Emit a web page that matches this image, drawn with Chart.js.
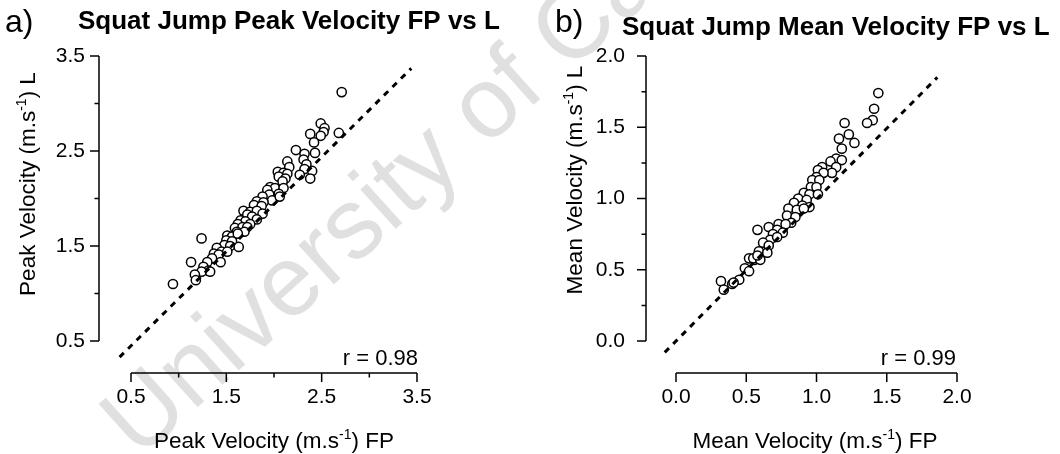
<!DOCTYPE html>
<html>
<head>
<meta charset="utf-8">
<script src="https://cdn.jsdelivr.net/npm/chart.js@4.4.1/dist/chart.umd.min.js"></script>
<style>
  body { margin: 0; background: #fff; }
  #wrap { position: relative; width: 1060px; height: 454px; overflow: hidden; }
  #watermark {
    position: absolute; left: 82px; top: 397px;
    transform-origin: 0 0; transform: rotate(-42deg);
    font: 100px 'Liberation Sans', Arial, sans-serif; line-height: 100px;
    color: #e0e0e0; white-space: nowrap;
  }
  canvas { position: absolute; top: 0; }
  #chartA { left: 0; }
  #chartB { left: 530px; }
</style>
</head>
<body>
<div id="wrap">
  <div id="watermark">University of Cape Town</div>
  <canvas id="chartA" width="530" height="454"></canvas>
  <canvas id="chartB" width="530" height="454"></canvas>
</div>
<script>
// a) peak velocity, force plate (x) vs linear transducer (y)
const peakFP = [2.71, 2.49, 2.53, 2.52, 2.38, 2.68, 2.49, 2.42, 2.23, 2.32, 2.43, 2.14, 2.31, 2.34, 2.16, 2.32,
  2.04, 2.10, 2.14, 2.40, 2.05, 2.12, 2.27, 2.38, 2.09, 1.96, 2.01, 2.10, 1.93, 2.05, 1.95, 1.88, 1.98, 2.06,
  1.82, 1.89, 1.79, 1.87, 1.68, 1.75, 1.82, 1.88, 1.72, 1.77, 1.65, 1.82, 1.70, 1.62, 1.75, 1.59, 1.67, 1.72,
  1.61, 1.69, 1.24, 1.51, 1.56, 1.62, 1.50, 1.56, 1.48, 1.54, 1.63, 1.40, 1.45, 1.51, 1.37, 1.42, 1.35, 1.44,
  1.13, 1.30, 1.26, 1.31, 1.24, 1.17, 1.18, 0.94, 1.33];
const peakL = [3.12, 2.79, 2.74, 2.70, 2.68, 2.69, 2.66, 2.59, 2.51, 2.47, 2.48, 2.39, 2.41, 2.36, 2.33, 2.31,
  2.28, 2.27, 2.26, 2.29, 2.23, 2.21, 2.25, 2.21, 2.18, 2.12, 2.11, 2.11, 2.09, 2.05, 2.04, 2.02, 1.98, 2.02,
  1.97, 1.96, 1.93, 1.92, 1.87, 1.86, 1.87, 1.84, 1.83, 1.81, 1.77, 1.78, 1.76, 1.73, 1.73, 1.69, 1.70, 1.70,
  1.65, 1.65, 1.58, 1.61, 1.60, 1.63, 1.56, 1.55, 1.51, 1.50, 1.49, 1.48, 1.44, 1.44, 1.42, 1.41, 1.37, 1.33,
  1.33, 1.33, 1.28, 1.24, 1.23, 1.20, 1.14, 1.10, 1.23];
const peakLineFP = [0.38, 3.44];
const peakLineL = [0.33, 3.37];
const peakTicks = [0.5, 1.5, 2.5, 3.5];

// b) mean velocity
const meanFP = [1.44, 1.41, 1.40, 1.36, 1.20, 1.23, 1.16, 1.27, 1.18, 1.14, 1.18, 1.10, 1.14, 1.04, 1.01, 1.11,
  1.05, 1.00, 0.97, 1.02, 0.96, 1.00, 0.91, 0.95, 1.01, 0.87, 0.93, 0.84, 0.90, 0.95, 0.80, 0.86, 0.91, 0.79,
  0.85, 0.82, 0.73, 0.78, 0.66, 0.58, 0.72, 0.76, 0.69, 0.67, 0.72, 0.62, 0.66, 0.59, 0.65, 0.52, 0.56, 0.55,
  0.49, 0.52, 0.45, 0.32, 0.40, 0.41, 0.34, 0.60, 0.58];
const meanL = [1.74, 1.63, 1.55, 1.53, 1.53, 1.45, 1.42, 1.39, 1.35, 1.28, 1.27, 1.26, 1.22, 1.22, 1.20, 1.18,
  1.18, 1.15, 1.13, 1.13, 1.08, 1.08, 1.04, 1.03, 1.03, 1.00, 0.99, 0.97, 0.95, 0.94, 0.93, 0.92, 0.93, 0.88,
  0.87, 0.83, 0.82, 0.82, 0.80, 0.78, 0.78, 0.76, 0.75, 0.71, 0.73, 0.69, 0.67, 0.63, 0.62, 0.58, 0.57, 0.58,
  0.51, 0.49, 0.43, 0.42, 0.40, 0.41, 0.36, 0.57, 0.60];
const meanLineFP = [-0.08, 1.86];
const meanLineL = [-0.08, 1.85];
const meanTicks = [0.0, 0.5, 1.0, 1.5, 2.0];

const FONT = "'Liberation Sans', Arial, sans-serif";
Chart.defaults.font.family = FONT;
Chart.defaults.color = '#000';

const isMajor = (v, list) => list.some(t => Math.abs(t - v) < 1e-6);

// draws text with a raised "-1" in the middle
function supText(ctx, pre, sup, post, x, y, size) {
  ctx.font = size + 'px ' + FONT;
  const w1 = ctx.measureText(pre).width;
  const w3 = ctx.measureText(post).width;
  ctx.font = Math.round(size * 0.62) + 'px ' + FONT;
  const w2 = ctx.measureText(sup).width;
  let sx = x - (w1 + w2 + w3) / 2;
  ctx.textAlign = 'left';
  ctx.font = size + 'px ' + FONT;
  ctx.fillText(pre, sx, y);
  ctx.font = Math.round(size * 0.62) + 'px ' + FONT;
  ctx.fillText(sup, sx + w1, y - size * 0.42);
  ctx.font = size + 'px ' + FONT;
  ctx.fillText(post, sx + w1 + w2, y);
}

// Igor-style axes: lines sit away from the plot box, ticks point outwards
const detachedAxes = {
  id: 'detachedAxes',
  afterDraw(chart, args, o) {
    const ctx = chart.ctx;
    const xs = chart.scales.x, ys = chart.scales.y;
    ctx.save();
    ctx.strokeStyle = '#000';
    ctx.lineWidth = 1.5;
    ctx.beginPath();
    ctx.moveTo(xs.getPixelForValue(xs.min), o.xAxisY);
    ctx.lineTo(xs.getPixelForValue(xs.max), o.xAxisY);
    xs.ticks.forEach(t => {
      const px = xs.getPixelForValue(t.value);
      ctx.moveTo(px, o.xAxisY);
      ctx.lineTo(px, o.xAxisY + (isMajor(t.value, o.xMajor) ? 9 : 4.5));
    });
    ctx.moveTo(o.yAxisX, ys.getPixelForValue(ys.min));
    ctx.lineTo(o.yAxisX, ys.getPixelForValue(ys.max));
    ys.ticks.forEach(t => {
      const py = ys.getPixelForValue(t.value);
      ctx.moveTo(o.yAxisX, py);
      ctx.lineTo(o.yAxisX - (isMajor(t.value, o.yMajor) ? 9 : 4.5), py);
    });
    ctx.stroke();

    ctx.fillStyle = '#000';
    ctx.textBaseline = 'alphabetic';
    ctx.textAlign = 'left';
    ctx.font = '32px ' + FONT;
    ctx.fillText(o.panel, o.panelX, 32);
    ctx.font = 'bold 26px ' + FONT;
    ctx.fillText(o.title, o.titleX, o.titleY);
    ctx.textAlign = 'right';
    ctx.font = '22px ' + FONT;
    ctx.fillText(o.r, o.rX, 365);

    supText(ctx, o.name + ' Velocity (m.s', '-1', ') FP', o.xTitleX, 448, 22.5);
    ctx.translate(o.yTitleX, o.yTitleY);
    ctx.rotate(-Math.PI / 2);
    supText(ctx, o.name + ' Velocity (m.s', '-1', ') L', 0, 0, 22.5);
    ctx.restore();
  }
};

function panel(canvasId, fp, l, lineFP, lineL, ticks, lim, yStep, area, axes) {
  const pts = fp.map((v, i) => ({ x: v, y: l[i] }));
  const line = lineFP.map((v, i) => ({ x: v, y: lineL[i] }));
  const label = v => isMajor(v, ticks) ? v.toFixed(1) : '';
  const pad = { left: 0, top: area.top, right: 530 - area.right, bottom: 0 };
  const chart = new Chart(document.getElementById(canvasId), {
    type: 'scatter',
    data: {
      datasets: [
        { data: line, showLine: true, borderColor: '#000', borderWidth: 3, borderDash: [6, 6],
          pointRadius: 0, clip: false },
        { data: pts, pointRadius: 4.6, pointBorderWidth: 1.5, pointBorderColor: '#000',
          pointBackgroundColor: '#fff', clip: false }
      ]
    },
    options: {
      responsive: false,
      animation: false,
      events: [],
      layout: { autoPadding: false, padding: pad },
      plugins: { legend: { display: false }, tooltip: { enabled: false }, detachedAxes: axes },
      scales: {
        x: {
          type: 'linear', min: lim[0], max: lim[1],
          // fixed size, and no label overhang pushing the plot box around
          afterFit: s => { s.height = 454 - area.bottom; s.paddingLeft = 0; s.paddingRight = 0; },
          grid: { display: false, drawTicks: false }, border: { display: false },
          ticks: { stepSize: 0.5, autoSkip: false, maxRotation: 0, padding: 44,
            font: { size: 21 }, color: '#000', callback: label }
        },
        y: {
          type: 'linear', min: lim[0], max: lim[1],
          afterFit: s => { s.width = area.left; s.paddingTop = 0; s.paddingBottom = 0; },
          grid: { display: false, drawTicks: false }, border: { display: false },
          ticks: { stepSize: yStep, autoSkip: false, padding: area.left - axes.labelRight,
            font: { size: 21 }, color: '#000', callback: label }
        }
      }
    },
    plugins: [detachedAxes]
  });
  // nudge the padding so the plot box lands where the reference has it
  const ca = chart.chartArea;
  const dTop = area.top - ca.top, dBottom = ca.bottom - area.bottom, dRight = ca.right - area.right;
  if (dTop || dBottom || dRight) {
    pad.top += dTop;
    pad.bottom += dBottom;
    pad.right += dRight;
    chart.update();
  }
  return chart;
}

panel('chartA', peakFP, peakL, peakLineFP, peakLineL, peakTicks, [0.5, 3.5], 0.5,
  { left: 131, right: 417, top: 56, bottom: 341 },
  { xAxisY: 373, yAxisX: 99, xMajor: peakTicks, yMajor: peakTicks, labelRight: 85,
    panel: 'a)', panelX: 5, title: 'Squat Jump Peak Velocity FP vs L', titleX: 78, titleY: 29,
    r: 'r = 0.98', rX: 418, name: 'Peak', xTitleX: 274, yTitleX: 35, yTitleY: 184 });

panel('chartB', meanFP, meanL, meanLineFP, meanLineL, meanTicks, [0, 2], 0.25,
  { left: 146, right: 427, top: 56, bottom: 341 },
  { xAxisY: 373, yAxisX: 116, xMajor: meanTicks, yMajor: meanTicks, labelRight: 95,
    panel: 'b)', panelX: 25, title: 'Squat Jump Mean Velocity FP vs L', titleX: 92, titleY: 35,
    r: 'r = 0.99', rX: 426, name: 'Mean', xTitleX: 285, yTitleX: 52, yTitleY: 180 });
</script>
</body>
</html>
